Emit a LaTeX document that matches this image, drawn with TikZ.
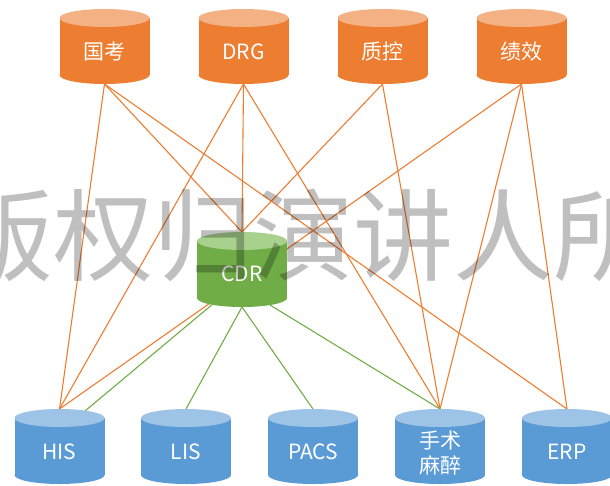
\documentclass[tikz,border=0pt]{standalone}
\usepackage{fontspec}
\setmainfont{Noto Sans CJK SC}
\newfontfamily\markfont{Noto Sans CJK SC}
\definecolor{orgbody}{HTML}{ED7D31}
\definecolor{orgcap}{HTML}{F4B183}
\definecolor{grnbody}{HTML}{70AD47}
\definecolor{grncap}{HTML}{A9D18E}
\definecolor{blubody}{HTML}{5B9BD5}
\definecolor{blucap}{HTML}{9DC3E6}
\tikzset{
  dblabel/.style={text=white, inner sep=0pt, anchor=base, align=center,
    font=\fontsize{21}{25}\selectfont},
  link/.style={line width=1.1pt, draw=orgbody},
  cdrlink/.style={line width=1.1pt, draw=grnbody},
  watermark/.style={text=black, text opacity=0.25, inner sep=0pt,
    font=\markfont\fontsize{100}{100}\selectfont},
}
% database cylinder: name, centre x, top y, body colour, cap colour,
% label, baseline offset of the label's last line below the top
\newcommand\dbcyl[7]{%
  \fill[#4] (#2-45,#3+9) rectangle (#2+45,#3+66);
  \fill[#4] (#2,#3+66) ellipse [x radius=45, y radius=9];
  \fill[#5] (#2,#3+9) ellipse [x radius=45, y radius=9];
  \node[dblabel] (#1) at (#2,#3+#7) {#6};
}
\begin{document}
\begin{tikzpicture}[x=1pt,y=-1pt]
\useasboundingbox (0,0) rectangle (610,485);

% connection points
\coordinate (gk-b) at (104.5,84);
\coordinate (drg-b) at (243.5,84);
\coordinate (zk-b) at (382.5,84);
\coordinate (jx-b) at (521.5,84);
\coordinate (cdr-t) at (242,232);
\coordinate (cdr-bl) at (212,304.7);
\coordinate (cdr-bc) at (242,307);
\coordinate (cdr-br) at (270,305);
\coordinate (his-t) at (59.5,409);
\coordinate (his-r) at (85,411);
\coordinate (lis-t) at (186,409);
\coordinate (pacs-t) at (313,409);
\coordinate (ss-t) at (440,409);
\coordinate (erp-t) at (567,409);

% links from the quality / assessment systems
\draw[link] (gk-b) -- (his-t);
\draw[link] (gk-b) -- (cdr-t);
\draw[link] (gk-b) -- (erp-t);
\draw[link] (drg-b) -- (his-t);
\draw[link] (drg-b) -- (cdr-t);
\draw[link] (drg-b) -- (ss-t);
\draw[link] (zk-b) -- (cdr-t);
\draw[link] (zk-b) -- (ss-t);
\draw[link] (jx-b) -- (his-t);
\draw[link] (jx-b) -- (ss-t);
\draw[link] (jx-b) -- (erp-t);

% links from the clinical data repository
\draw[cdrlink] (cdr-bl) -- (his-r);
\draw[cdrlink] (cdr-bc) -- (lis-t);
\draw[cdrlink] (cdr-bc) -- (pacs-t);
\draw[cdrlink] (cdr-br) -- (ss-t);

% top row
\dbcyl{gk}{104.5}{9}{orgbody}{orgcap}{国考}{50}
\dbcyl{drg}{243.5}{9}{orgbody}{orgcap}{DRG}{50}
\dbcyl{zk}{382.5}{9}{orgbody}{orgcap}{质控}{50}
\dbcyl{jx}{521.5}{9}{orgbody}{orgcap}{绩效}{50}

% repository
\dbcyl{cdr}{242}{232}{grnbody}{grncap}{CDR}{49}

% bottom row
\dbcyl{his}{59.5}{409}{blubody}{blucap}{HIS}{50}
\dbcyl{lis}{186}{409}{blubody}{blucap}{LIS}{50}
\dbcyl{pacs}{313}{409}{blubody}{blucap}{PACS}{50}
\dbcyl{ss}{440}{409}{blubody}{blucap}{手术\\麻醉}{64}
\dbcyl{erp}{567}{409}{blubody}{blucap}{ERP}{50}

% copyright mark
\node[watermark, anchor=base west] (wm) at (-47,273) {版权归演讲人所有};
\end{tikzpicture}
\end{document}
